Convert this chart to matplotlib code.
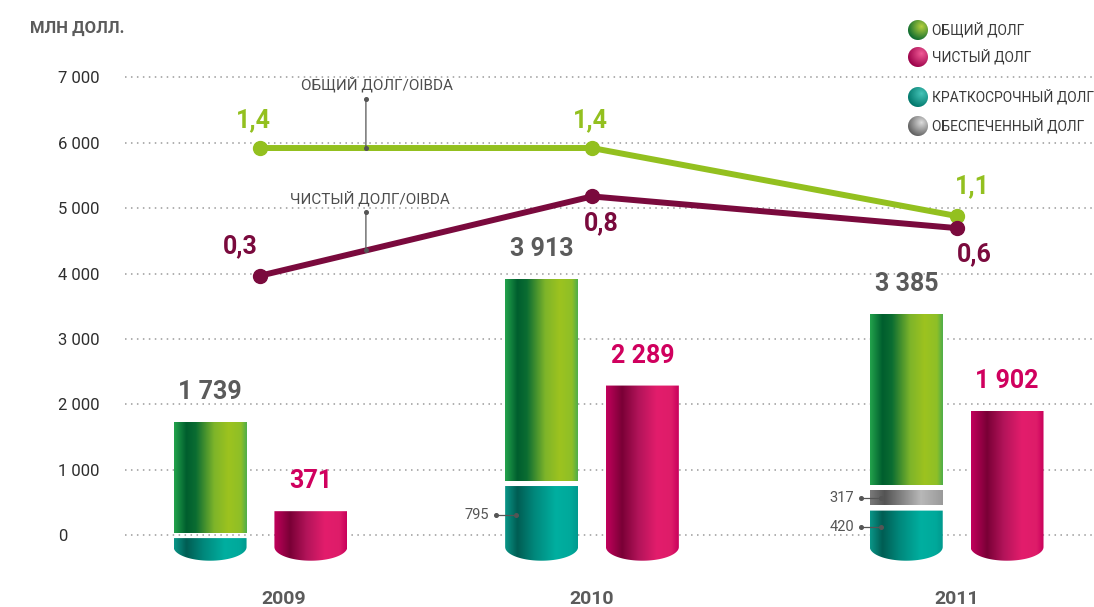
import numpy as np
import matplotlib
matplotlib.use("Agg")
import matplotlib.pyplot as plt
from matplotlib.colors import LinearSegmentedColormap, to_rgb
from matplotlib.path import Path
from matplotlib.patches import PathPatch
from matplotlib.transforms import offset_copy

plt.rcParams["font.family"] = ["Roboto", "DejaVu Sans"]

# ---- data (USD mln) ----
years = ["2009", "2010", "2011"]
total_debt = [1739, 3913, 3385]
net_debt = [371, 2289, 1902]
short_term_debt = [0, 795, 420]
secured_debt = [0, 0, 317]
total_debt_oibda = [1.4, 1.4, 1.1]
net_debt_oibda = [0.3, 0.8, 0.6]
y_ticks = [0, 1000, 2000, 3000, 4000, 5000, 6000, 7000]
legend_labels = ["ОБЩИЙ ДОЛГ", "ЧИСТЫЙ ДОЛГ", "КРАТКОСРОЧНЫЙ ДОЛГ", "ОБЕСПЕЧЕННЫЙ ДОЛГ"]
unit_label = "МЛН ДОЛЛ."
ratio_names = ["ОБЩИЙ ДОЛГ/OIBDA", "ЧИСТЫЙ ДОЛГ/OIBDA"]

# ---- layout ----
W, H = 1094, 607
group_x = np.array([0.0, 1.0, 2.1])
bar_w = 0.22
bar_off = 0.152
base = -175      # bottom of cylinder body
cap = 210        # depth of rounded bottom
gap = 40         # half of white gap between stacked parts

GREEN_LINE = "#93c01f"
NET_LINE = "#7a0a3d"
MAGENTA = "#d0005e"
GREY_TXT = "#5b5b5b"

cm_green = LinearSegmentedColormap.from_list("g", [
    (0.0, "#23a34c"), (0.17, "#005e2e"), (0.30, "#0b6d32"), (0.55, "#7db42a"),
    (0.75, "#9dc31f"), (0.92, "#8ebf27"), (1.0, "#4fae4a")])
cm_teal = LinearSegmentedColormap.from_list("t", [
    (0.0, "#0a9688"), (0.17, "#005d53"), (0.40, "#00877b"), (0.70, "#00afa0"),
    (0.90, "#00a99b"), (1.0, "#009a8e")])
cm_mag = LinearSegmentedColormap.from_list("m", [
    (0.0, "#c2005c"), (0.22, "#7a0036"), (0.45, "#b3145a"), (0.70, "#e31d6c"),
    (0.90, "#de1c69"), (1.0, "#c9005b")])
cm_grey = LinearSegmentedColormap.from_list("k", [
    (0.0, "#7a7a7a"), (0.20, "#545454"), (0.70, "#b8b8b8"), (1.0, "#9a9a9a")])

fig = plt.figure(figsize=(W / 100, H / 100), dpi=100)
ax = fig.add_axes([125 / W, 0, 1 - 125 / W, 1])
ax.set_facecolor("none")

grad = np.linspace(0, 1, 256)[None, :]


def segment(x0, bottom, top, cmap, rounded=False):
    x1 = x0 + bar_w
    if rounded:
        t = np.linspace(0, -np.pi, 80)
        arc = np.column_stack([(x0 + x1) / 2 + bar_w / 2 * np.cos(t),
                               bottom + cap * np.sin(t)])
        verts = np.vstack([[x0, top], [x1, top], arc, [x0, top]])
        lo = bottom - cap
    else:
        verts = np.array([[x0, top], [x1, top], [x1, bottom], [x0, bottom], [x0, top]])
        lo = bottom
    path = Path(verts, closed=True)
    im = ax.imshow(grad, cmap=cmap, extent=(x0, x1, lo, top), aspect="auto",
                   interpolation="bilinear", zorder=2)
    im.set_clip_path(PathPatch(path, transform=ax.transData))


def fmt_int(v):
    return f"{v:,}".replace(",", " ")


def fmt_ratio(v):
    return f"{v:.1f}".replace(".", ",")


def pointer_label(xl, y, text):
    ax.plot([xl - 0.027, xl + 0.033], [y, y], color="#555555", lw=0.9, zorder=4)
    ax.plot([xl - 0.027, xl + 0.033], [y, y], "o", color="#555555", ms=2.6, zorder=4)
    ax.text(xl - 0.048, y, text, ha="right", va="center", fontsize=10.5,
            color="#555555", zorder=4)


for i, gx in enumerate(group_x):
    # total debt: stacked short-term / secured / rest
    xl = gx - bar_off - bar_w / 2
    st, sc = short_term_debt[i], secured_debt[i]
    segment(xl, base, st - gap, cm_teal, rounded=True)
    bnd = st
    if sc > 0:
        segment(xl, st + gap, st + sc - gap, cm_grey)
        bnd = st + sc
    segment(xl, bnd + gap, total_debt[i], cm_green)
    if st > 0:
        pointer_label(xl, (base + st) / 2, fmt_int(st))
    if sc > 0:
        pointer_label(xl, st + sc / 2, fmt_int(sc))
    ax.annotate(fmt_int(total_debt[i]), xy=(gx - bar_off, total_debt[i]),
                xytext=(0, 13), textcoords="offset points", ha="center", va="bottom",
                fontsize=18, fontweight="bold", color=GREY_TXT)

    # net debt
    xn = gx + bar_off - bar_w / 2
    segment(xn, base, net_debt[i], cm_mag, rounded=True)
    ax.annotate(fmt_int(net_debt[i]), xy=(gx + bar_off, net_debt[i]),
                xytext=(0, 13), textcoords="offset points", ha="center", va="bottom",
                fontsize=18, fontweight="bold", color=MAGENTA)

    ax.text(gx + (0.07 if i == 0 else 0.0), 7.5 / H, years[i],
            transform=ax.get_xaxis_transform(),
            ha="center", va="center", fontsize=14, fontweight="bold", color=GREY_TXT)

# axes styling
ax.set_xlim(-0.4087, 2.5143)
ax.set_ylim(-1092, 8176)
ax.set_yticks(y_ticks, labels=[fmt_int(v) for v in y_ticks])
ax.set_xticks([])
ax.tick_params(axis="y", length=0, pad=48, labelsize=12, labelcolor="#2e2e2e")
for lab in ax.get_yticklabels():
    lab.set_horizontalalignment("left")
ax.grid(axis="y", color="#9a9a9a", lw=1.1, linestyle=(0, (1, 2.9)), zorder=0)
ax.set_axisbelow(True)
for s in ax.spines.values():
    s.set_visible(False)

# ratio lines, each on its own hidden scale
ax_t = ax.twinx()
ax_t.set_ylim(-0.625, 2.053)
ax_n = ax.twinx()
ax_n.set_ylim(-1.792, 2.040)
for a in (ax_t, ax_n):
    a.axis("off")

ax_t.plot(group_x, total_debt_oibda, color=GREEN_LINE, lw=4.3, marker="o", ms=10,
          solid_capstyle="round", solid_joinstyle="round", zorder=3)
ax_n.plot(group_x, net_debt_oibda, color=NET_LINE, lw=4.3, marker="o", ms=10,
          solid_capstyle="round", solid_joinstyle="round", zorder=3)

t_offsets = [(-5, 20), (-1, 20), (11.5, 21.5)]
n_offsets = [(-14.5, 21), (6.5, -19), (13, -19)]
for i, gx in enumerate(group_x):
    dx, dy = t_offsets[i]
    ax_t.annotate(fmt_ratio(total_debt_oibda[i]), xy=(gx, total_debt_oibda[i]),
                  xytext=(dx, dy), textcoords="offset points", ha="center", va="center",
                  fontsize=18, fontweight="bold", color=GREEN_LINE)
    dx, dy = n_offsets[i]
    ax_n.annotate(fmt_ratio(net_debt_oibda[i]), xy=(gx, net_debt_oibda[i]),
                  xytext=(dx, dy), textcoords="offset points", ha="center", va="center",
                  fontsize=18, fontweight="bold", color=NET_LINE)

# series name callouts
x_p = 0.318
for a, vals, name, up, txt_dy, txt_dx in (
        (ax_t, total_debt_oibda, ratio_names[0], 35.3, 45.4, 7.9),
        (ax_n, net_debt_oibda, ratio_names[1], 27.4, 37.4, 2.9)):
    yv = np.interp(x_p, group_x, vals)
    a.annotate("", xy=(x_p, yv), xytext=(0, up), textcoords="offset points",
               arrowprops=dict(arrowstyle="-", color="#555555", lw=0.9,
                               shrinkA=0, shrinkB=0), zorder=4)
    a.plot([x_p], [yv], "o", color="#555555", ms=2.6, zorder=5)
    a.plot([x_p], [yv], "o", color="#555555", ms=2.6, zorder=5,
           transform=offset_copy(a.transData, fig=fig, x=0, y=up, units="points"))
    a.annotate(name, xy=(x_p, yv), xytext=(txt_dx, txt_dy), textcoords="offset points",
               ha="center", va="center", fontsize=11, color="#4d4d4d")

# unit caption
fig.text(30 / W, 1 - 28 / H, unit_label, ha="left", va="center", fontsize=12,
         fontweight="bold", color=GREY_TXT)

# legend with shaded spheres
def sphere(light, dark, r=10):
    n = 2 * r + 2
    yy, xx = np.mgrid[0:n, 0:n] + 0.5
    c = n / 2
    d = np.hypot(xx - c, yy - c)
    alpha = np.clip(r - d + 0.5, 0, 1)
    # highlight toward upper right (rows run bottom-up with origin="lower")
    hd = np.hypot(xx - (c + 0.35 * r), yy - (c + 0.35 * r))
    t = np.clip(hd / (1.45 * r), 0, 1)[..., None]
    col = (1 - t) * np.array(to_rgb(light)) + t * np.array(to_rgb(dark))
    return np.dstack([col, alpha])


spheres = [("#b5d03c", "#0b6a30"), ("#f05a96", "#9a0048"),
           ("#45c4b8", "#00766a"), ("#dcdcdc", "#5e5e5e")]
leg_y = [30, 57, 97, 126]
for (light, dark), yc, lab in zip(spheres, leg_y, legend_labels):
    img = sphere(light, dark)
    fig.figimage(img, xo=918 - 11, yo=H - yc - 11, zorder=5, origin="lower")
    fig.text(932 / W, 1 - yc / H, lab, ha="left", va="center", fontsize=10,
             color="#3a3a3a")

fig.savefig("out.png", dpi=100)
